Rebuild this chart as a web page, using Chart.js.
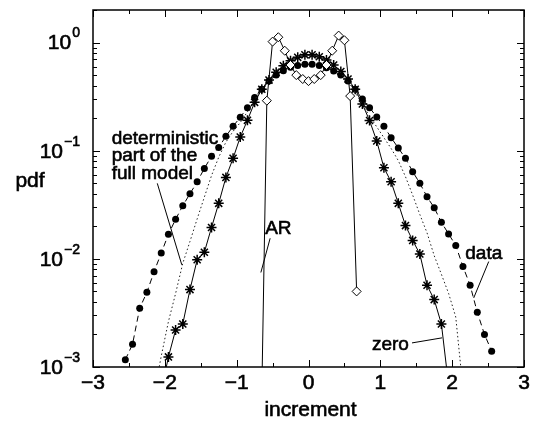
<!DOCTYPE html>
<html>
<head>
<meta charset="utf-8">
<script src="https://cdn.jsdelivr.net/npm/chart.js@4.4.1/dist/chart.umd.min.js"></script>
<style>
  html, body { margin: 0; padding: 0; background: #fff; }
</style>
</head>
<body>
<canvas id="pdf" width="534" height="422"></canvas>
<script>
// axis ticks
var xMajor = [-3, -2, -1, 0, 1, 2, 3];
var xLabels = ['\u22123', '\u22122', '\u22121', '0', '1', '2', '3'];
var xMinor = [-2.5, -1.5, -0.5, 0.5, 1.5, 2.5];
var yMajor = [1, 0.1, 0.01, 0.001];
var yExp = ['0', '\u22121', '\u22122', '\u22123'];

// measured pdf ("data")
var dataX = [-2.55, -2.45, -2.35, -2.25, -2.15, -2.05, -1.95, -1.85, -1.75, -1.65, -1.55, -1.45, -1.35,
             -1.25, -1.15, -1.05, -0.95, -0.85, -0.75, -0.65, -0.55, -0.45, -0.35, -0.25, -0.15, -0.05,
             0.05, 0.15, 0.25, 0.35, 0.45, 0.55, 0.65, 0.75, 0.85, 0.95, 1.05, 1.15, 1.25,
             1.35, 1.45, 1.55, 1.65, 1.75, 1.85, 1.95, 2.05, 2.15, 2.25, 2.35, 2.45, 2.55];
var dataY = [0.00117, 0.00162, 0.0035, 0.0049, 0.0076, 0.0113, 0.0169, 0.0232, 0.031, 0.040, 0.0515, 0.0685, 0.089,
             0.107, 0.136, 0.168, 0.204, 0.25, 0.31, 0.37, 0.44, 0.50, 0.55, 0.59, 0.615, 0.63,
             0.63, 0.615, 0.585, 0.545, 0.50, 0.44, 0.37, 0.30, 0.25, 0.205, 0.168, 0.132, 0.106,
             0.085, 0.064, 0.050, 0.0375, 0.0297, 0.0218, 0.017, 0.0133, 0.0085, 0.0057, 0.0032, 0.002, 0.0014];

// "zero" model (stars)
var zeroX = [-2.05, -1.95, -1.85, -1.75, -1.65, -1.55, -1.45, -1.35, -1.25, -1.15, -1.05, -0.95, -0.85, -0.75,
             -0.65, -0.55, -0.45, -0.35, -0.25, -0.15, -0.05, 0.05, 0.15, 0.25, 0.35, 0.45, 0.55,
             0.65, 0.75, 0.85, 0.95, 1.05, 1.15, 1.25, 1.35, 1.45, 1.55, 1.65, 1.75, 1.85, 1.95];
var zeroY = [0.0006, 0.00124, 0.0022, 0.0025, 0.0052, 0.0098, 0.0115, 0.0195, 0.0326, 0.0566, 0.085, 0.134, 0.191, 0.28,
             0.37, 0.45, 0.53, 0.61, 0.68, 0.73, 0.77, 0.77, 0.74, 0.69, 0.62, 0.54, 0.46,
             0.37, 0.27, 0.19, 0.123, 0.0695, 0.0516, 0.0326, 0.0203, 0.0148, 0.0111, 0.0057, 0.0042, 0.0025, 0.00068];

// AR model (diamonds)
var arX = [-0.67, -0.58, -0.5, -0.42, -0.33, -0.25, -0.17, -0.08, 0, 0.08, 0.17, 0.25, 0.33, 0.42, 0.5, 0.58, 0.67];
var arY = [0.0001, 0.29, 1.02, 1.12, 0.84, 0.62, 0.5, 0.46, 0.44, 0.46, 0.5, 0.62, 0.84, 1.16, 1.05, 0.32, 0.005];

// deterministic part of the full model (dotted)
var detX = [-2.15, -2.05, -1.95, -1.85, -1.75, -1.65, -1.55, -1.45, -1.35, -1.25, -1.15, -1.05, -0.95, -0.85, -0.75,
            -0.65, -0.55, -0.45, -0.35, -0.25, -0.15, -0.05, 0.05, 0.15, 0.25, 0.35, 0.45, 0.55, 0.65,
            0.75, 0.85, 0.95, 1.05, 1.15, 1.25, 1.35, 1.45, 1.55, 1.65, 1.75, 1.85, 1.95, 2.05, 2.15];
var detY = [0.00056, 0.00126, 0.00263, 0.00479, 0.0091, 0.0145, 0.0234, 0.0372, 0.0589, 0.087, 0.120, 0.151, 0.182, 0.229, 0.295,
            0.372, 0.457, 0.55, 0.63, 0.69, 0.74, 0.76, 0.76, 0.74, 0.69, 0.62, 0.525, 0.427, 0.347,
            0.269, 0.209, 0.166, 0.132, 0.105, 0.081, 0.0575, 0.0389, 0.0257, 0.0174, 0.0107, 0.0072, 0.0048, 0.0029, 0.00063];

// text labels placed in data units
var notes = [
  {lines: ['deterministic', 'part of the', 'full model'], x: -2.74, y: 0.129, align: 'left'},
  {lines: ['AR'], x: -0.42, y: 0.0189, align: 'center'},
  {lines: ['data'], x: 2.44, y: 0.0111, align: 'center'},
  {lines: ['zero'], x: 1.14, y: 0.00161, align: 'center'}
];
var leaders = [
  [-2.105, 0.0499, -1.764, 0.00881],
  [-0.534, 0.0155, -0.663, 0.00748],
  [2.509, 0.00944, 2.30, 0.00435],
  [1.441, 0.00167, 1.859, 0.00186]
];

function pts(xs, ys) {
  return xs.map(function (v, i) { return {x: v, y: ys[i]}; });
}

var FONT = '"Liberation Sans", Arial, Helvetica, sans-serif';

// slightly heavier text, like the scanned figure
function text(ctx, s, px, py) {
  ctx.fillText(s, px, py);
  ctx.strokeText(s, px, py);
}

var frame = {
  id: 'frame',
  afterDatasetsDraw: function (chart) {
    var ctx = chart.ctx, a = chart.chartArea, x = chart.scales.x, y = chart.scales.y;
    ctx.save();
    ctx.strokeStyle = '#000';
    ctx.lineWidth = 1.5;
    ctx.strokeRect(a.left, a.top, a.right - a.left, a.bottom - a.top);

    // inward ticks on all four sides
    ctx.lineWidth = 1;
    ctx.beginPath();
    function xt(v, len) {
      var p = Math.round(x.getPixelForValue(v)) + 0.5;
      ctx.moveTo(p, a.bottom); ctx.lineTo(p, a.bottom - len);
      ctx.moveTo(p, a.top); ctx.lineTo(p, a.top + len);
    }
    function yt(v, len) {
      var p = Math.round(y.getPixelForValue(v)) + 0.5;
      ctx.moveTo(a.left, p); ctx.lineTo(a.left + len, p);
      ctx.moveTo(a.right, p); ctx.lineTo(a.right - len, p);
    }
    xMajor.forEach(function (v) { xt(v, 7); });
    xMinor.forEach(function (v) { xt(v, 4); });
    yMajor.forEach(function (v) { yt(v, 7); });
    yMajor.forEach(function (d) {
      for (var m = 2; m <= 9; m++) {
        if (d * m <= y.max) yt(d * m, 4);
      }
    });
    ctx.stroke();

    // tick labels
    ctx.fillStyle = '#000';
    ctx.lineWidth = 0.6;
    ctx.font = '21px ' + FONT;
    ctx.textAlign = 'center';
    ctx.textBaseline = 'middle';
    xMajor.forEach(function (v, i) {
      text(ctx, xLabels[i], x.getPixelForValue(v), a.bottom + 16);
    });
    yMajor.forEach(function (v, i) {
      var p = y.getPixelForValue(v);
      var right = a.left - 13;
      ctx.font = '14px ' + FONT;
      ctx.textAlign = 'right';
      ctx.textBaseline = 'middle';
      text(ctx, yExp[i], right, p - 9);
      var w = ctx.measureText(yExp[i]).width;
      ctx.font = '21px ' + FONT;
      text(ctx, '10', right - w - 1, p + 1);
    });

    // axis titles
    ctx.textAlign = 'center';
    text(ctx, 'increment', (a.left + a.right) / 2 + 2, a.bottom + 43);
    text(ctx, 'pdf', a.left - 63, y.getPixelForValue(0.052));

    // annotations
    ctx.font = '19px ' + FONT;
    notes.forEach(function (n) {
      ctx.textAlign = n.align;
      var px = x.getPixelForValue(n.x), py = y.getPixelForValue(n.y);
      n.lines.forEach(function (t, k) { text(ctx, t, px, py + k * 17.5); });
    });
    ctx.lineWidth = 1;
    ctx.beginPath();
    leaders.forEach(function (l) {
      ctx.moveTo(x.getPixelForValue(l[0]), y.getPixelForValue(l[1]));
      ctx.lineTo(x.getPixelForValue(l[2]), y.getPixelForValue(l[3]));
    });
    ctx.stroke();
    ctx.restore();
  }
};

var ctx = document.getElementById('pdf').getContext('2d');
var myChart = new Chart(ctx, {
  type: 'line',
  data: {
    datasets: [{
      label: 'deterministic part of the full model',
      data: pts(detX, detY),
      borderColor: '#222',
      borderWidth: 1,
      borderDash: [1.5, 2.5],
      pointRadius: 0,
      clip: 0
    }, {
      label: 'AR',
      data: pts(arX, arY),
      borderColor: '#000',
      borderWidth: 1,
      pointStyle: 'rectRot',
      pointRadius: 4.5,
      pointBackgroundColor: '#fff',
      pointBorderColor: '#000',
      pointBorderWidth: 1,
      clip: 0
    }, {
      label: 'zero',
      data: pts(zeroX, zeroY),
      borderColor: '#000',
      borderWidth: 1,
      pointStyle: 'star',
      pointRadius: 5,
      pointBorderColor: '#000',
      pointBorderWidth: 1.5,
      clip: 0
    }, {
      label: 'data',
      data: pts(dataX, dataY),
      borderColor: '#000',
      borderWidth: 1,
      borderDash: [6, 4],
      pointStyle: 'circle',
      pointRadius: 3.5,
      pointBackgroundColor: '#000',
      pointBorderColor: '#000',
      pointBorderWidth: 0,
      clip: 0
    }]
  },
  options: {
    responsive: false,
    animation: false,
    layout: { padding: { left: 93, right: 10, top: 10, bottom: 55 } },
    plugins: { legend: { display: false }, tooltip: { enabled: false } },
    scales: {
      x: { type: 'linear', min: -3, max: 3, display: false },
      y: { type: 'logarithmic', min: 0.001, max: 2, display: false }
    }
  },
  plugins: [frame]
});
</script>
</body>
</html>
